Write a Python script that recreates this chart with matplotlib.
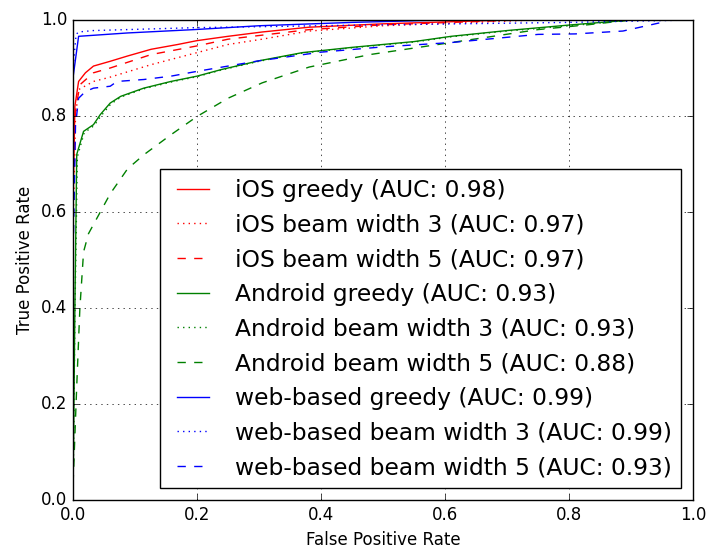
import numpy as np
import matplotlib
matplotlib.use("Agg")
import matplotlib.pyplot as plt

# ROC curves
ios_greedy_fpr = [0.0, 0.0, 0.003, 0.009, 0.02, 0.033, 0.06, 0.088, 0.126, 0.169, 0.2, 0.25, 0.305, 0.381, 0.5, 0.7, 1.0]
ios_greedy_tpr = [0.0, 0.6, 0.82, 0.872, 0.89, 0.904, 0.914, 0.925, 0.939, 0.949, 0.957, 0.966, 0.975, 0.985, 0.992, 1.0, 1.0]

ios_beam3_fpr = [0.0, 0.0, 0.004, 0.009, 0.033, 0.06, 0.126, 0.2, 0.25, 0.305, 0.381, 0.5, 0.75, 1.0]
ios_beam3_tpr = [0.0, 0.55, 0.8, 0.855, 0.872, 0.881, 0.907, 0.932, 0.949, 0.96, 0.977, 0.988, 1.0, 1.0]

ios_beam5_fpr = [0.0, 0.0, 0.004, 0.011, 0.033, 0.06, 0.126, 0.2, 0.25, 0.381, 0.5, 0.72, 1.0]
ios_beam5_tpr = [0.0, 0.58, 0.81, 0.865, 0.89, 0.9, 0.928, 0.946, 0.96, 0.98, 0.99, 1.0, 1.0]

and_greedy_fpr = [0.0, 0.003, 0.006, 0.017, 0.033, 0.044, 0.06, 0.077, 0.114, 0.158, 0.2, 0.24, 0.3, 0.37, 0.45, 0.55, 0.61, 0.7, 0.805, 0.9, 1.0]
and_greedy_tpr = [0.0, 0.4, 0.72, 0.768, 0.782, 0.803, 0.827, 0.841, 0.858, 0.872, 0.883, 0.897, 0.915, 0.932, 0.943, 0.955, 0.966, 0.978, 0.99, 1.0, 1.0]

and_beam3_fpr = [0.0, 0.003, 0.007, 0.018, 0.034, 0.045, 0.061, 0.078, 0.115, 0.159, 0.2, 0.24, 0.3, 0.37, 0.45, 0.55, 0.61, 0.7, 0.81, 0.9, 1.0]
and_beam3_tpr = [0.0, 0.38, 0.715, 0.765, 0.78, 0.8, 0.825, 0.84, 0.857, 0.871, 0.882, 0.896, 0.914, 0.931, 0.942, 0.954, 0.965, 0.977, 0.989, 1.0, 1.0]

and_beam5_fpr = [0.0, 0.0, 0.006, 0.011, 0.017, 0.025, 0.044, 0.06, 0.088, 0.115, 0.158, 0.2, 0.25, 0.305, 0.381, 0.479, 0.61, 0.75, 0.83, 0.9, 1.0]
and_beam5_tpr = [0.0, 0.03, 0.238, 0.398, 0.517, 0.555, 0.6, 0.638, 0.69, 0.72, 0.761, 0.799, 0.837, 0.869, 0.902, 0.928, 0.953, 0.98, 0.99, 1.0, 1.0]

web_greedy_fpr = [0.0, 0.0, 0.009, 0.088, 0.196, 0.3, 0.45, 0.6, 1.0]
web_greedy_tpr = [0.0, 0.88, 0.966, 0.973, 0.98, 0.988, 0.995, 1.0, 1.0]

web_beam3_fpr = [0.0, 0.0, 0.005, 0.009, 0.033, 0.196, 0.5, 0.8, 1.0]
web_beam3_tpr = [0.0, 0.9, 0.97, 0.975, 0.978, 0.984, 0.99, 0.995, 1.0]

web_beam5_fpr = [0.0, 0.0, 0.004, 0.009, 0.02, 0.033, 0.06, 0.071, 0.114, 0.158, 0.2, 0.3, 0.4, 0.5, 0.61, 0.75, 0.81, 0.887, 0.946, 0.955, 1.0]
web_beam5_tpr = [0.0, 0.5, 0.78, 0.837, 0.851, 0.858, 0.862, 0.872, 0.876, 0.883, 0.893, 0.915, 0.933, 0.944, 0.953, 0.97, 0.971, 0.977, 0.994, 1.0, 1.0]

labels = [
    "iOS greedy (AUC: 0.98)",
    "iOS beam width 3 (AUC: 0.97)",
    "iOS beam width 5 (AUC: 0.97)",
    "Android greedy (AUC: 0.93)",
    "Android beam width 3 (AUC: 0.93)",
    "Android beam width 5 (AUC: 0.88)",
    "web-based greedy (AUC: 0.99)",
    "web-based beam width 3 (AUC: 0.99)",
    "web-based beam width 5 (AUC: 0.93)",
]

curves = [
    (ios_greedy_fpr, ios_greedy_tpr, "r-"),
    (ios_beam3_fpr, ios_beam3_tpr, "r:"),
    (ios_beam5_fpr, ios_beam5_tpr, "r--"),
    (and_greedy_fpr, and_greedy_tpr, "g-"),
    (and_beam3_fpr, and_beam3_tpr, "g:"),
    (and_beam5_fpr, and_beam5_tpr, "g--"),
    (web_greedy_fpr, web_greedy_tpr, "b-"),
    (web_beam3_fpr, web_beam3_tpr, "b:"),
    (web_beam5_fpr, web_beam5_tpr, "b--"),
]

plt.style.use("classic")
fig = plt.figure(figsize=(7.18, 5.6), dpi=100)
ax = fig.add_axes([0.1017, 0.1071, 0.8635, 0.8572])

for (fpr, tpr, fmt), lab in zip(curves, labels):
    ln, = ax.plot(fpr, tpr, fmt, label=lab)
    if fmt.endswith("--"):
        ln.set_dashes((6, 6))

ax.set_xlim(0, 1)
ax.set_ylim(0, 1)
ax.set_xlabel("False Positive Rate")
ax.set_ylabel("True Positive Rate")
ax.grid(True)
ax.legend(loc="lower right", fontsize=16.8, labelspacing=0.5)

fig.savefig("out.png", dpi=100)
